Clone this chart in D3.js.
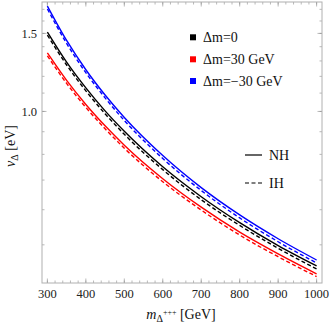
<!DOCTYPE html>
<html><head><meta charset="utf-8">
<script src="https://cdn.jsdelivr.net/npm/d3@7"></script>
<style>body{margin:0;background:#fff}svg{display:block}</style>
</head><body>
<svg id="c" width="332" height="325"></svg>
<script>
const masses = [300,350,400,450,500,600,700,800,900,1000];
const blackNH = [1.510,1.292,1.130,1.003,0.902,0.750,0.642,0.561,0.498,0.448];
const blackIH = [1.487,1.273,1.113,0.988,0.888,0.739,0.632,0.553,0.491,0.441];
const redNH   = [1.355,1.175,1.037,0.928,0.839,0.705,0.608,0.534,0.477,0.430];
const redIH   = [1.335,1.157,1.021,0.914,0.826,0.694,0.599,0.526,0.470,0.424];
const blueNH  = [1.729,1.446,1.242,1.089,0.969,0.795,0.673,0.584,0.516,0.462];
const blueIH  = [1.703,1.424,1.223,1.073,0.954,0.783,0.663,0.575,0.508,0.455];
const xTicks = [300,400,500,600,700,800,900,1000];
const yTicks = [1.0,1.5];
const yTickLabels = ["1.0","1.5"];
const legendLabels = ["\u0394m=0","\u0394m=30 GeV","\u0394m=\u221230 GeV"];
const legendColors = ["#000000","#ff0000","#0000ff"];

const svg = d3.select("#c");
const L=42,R=322,T=2,B=283;
const x = d3.scaleLinear().domain([286,1014]).range([L,R]);
const y = d3.scaleLog().domain([0.410,1.766]).range([B,T]);
const frame="#b0b0b0", tickC="#8a8a8a";
const serif="'Liberation Serif','DejaVu Serif',serif";

svg.append("defs").append("clipPath").attr("id","clip").append("rect")
  .attr("x",L).attr("y",T).attr("width",R-L).attr("height",B-T);

const xMinor = d3.range(300,1001,20);
const yMinor = d3.range(5,18).map(d=>d/10);
function hTicks(vals,len,yy,dir){
  vals.forEach(v=>svg.append("line").attr("x1",x(v)).attr("x2",x(v)).attr("y1",yy).attr("y2",yy+dir*len).attr("stroke",tickC).attr("stroke-width",0.6));
}
function vTicks(vals,len,xx,dir){
  vals.forEach(v=>svg.append("line").attr("y1",y(v)).attr("y2",y(v)).attr("x1",xx).attr("x2",xx+dir*len).attr("stroke",tickC).attr("stroke-width",0.6));
}
hTicks(xMinor,2.5,B,-1); hTicks(xTicks,4.5,B,-1);
hTicks(xMinor,2.5,T,1); hTicks(xTicks,4.5,T,1);
vTicks(yMinor,2.5,L,1); vTicks(yTicks,4.5,L,1);
vTicks(yMinor,2.5,R,-1); vTicks(yTicks,4.5,R,-1);

svg.append("rect").attr("x",L).attr("y",T).attr("width",R-L).attr("height",B-T)
  .attr("fill","none").attr("stroke",frame).attr("stroke-width",1);

svg.append("g").selectAll("text").data(xTicks).join("text")
  .attr("x",d=>x(d)).attr("y",B+15).attr("text-anchor","middle")
  .attr("font-family",serif).attr("font-size",12.5).attr("fill","#222").text(d=>d);
svg.append("g").selectAll("text").data(yTicks).join("text")
  .attr("x",L-5).attr("y",d=>y(d)+4.5).attr("text-anchor","end")
  .attr("font-family",serif).attr("font-size",12.5).attr("fill","#222").text((d,i)=>yTickLabels[i]);

const line = d3.line().x((d,i)=>x(masses[i])).y(d=>y(d)).curve(d3.curveMonotoneX);
const g = svg.append("g").attr("clip-path","url(#clip)");
const series = [
  [blackNH,"#000000",null],[blackIH,"#000000","4,2.5"],
  [redNH,"#ff0000",null],[redIH,"#ff0000","4,2.5"],
  [blueNH,"#0000ff",null],[blueIH,"#0000ff","4,2.5"]
];
series.forEach(([vals,col,dash])=>{
  g.append("path").attr("d",line(vals)).attr("fill","none").attr("stroke",col)
   .attr("stroke-width",1.4).attr("stroke-dasharray",dash);
});

const ly=[37.3,59.3,81];
legendLabels.forEach((t,i)=>{
  svg.append("rect").attr("x",190).attr("y",ly[i]-3).attr("width",6).attr("height",6).attr("fill",legendColors[i]);
  svg.append("text").attr("x",203).attr("y",ly[i]+4.5).attr("font-family",serif).attr("font-size",14).attr("fill","#111").text(t);
});
svg.append("line").attr("x1",245).attr("x2",262).attr("y1",155).attr("y2",155).attr("stroke","#000").attr("stroke-width",1.2);
svg.append("line").attr("x1",245).attr("x2",262).attr("y1",183).attr("y2",183).attr("stroke","#000").attr("stroke-width",1.2).attr("stroke-dasharray","4,2.5");
svg.append("text").attr("x",269).attr("y",159.5).attr("font-family",serif).attr("font-size",14).attr("fill","#111").text("NH");
svg.append("text").attr("x",269).attr("y",187.5).attr("font-family",serif).attr("font-size",14).attr("fill","#111").text("IH");

const xl = svg.append("text").attr("x",181).attr("y",319).attr("text-anchor","middle")
  .attr("font-family",serif).attr("font-size",14).attr("fill","#111");
xl.append("tspan").attr("font-style","italic").text("m");
xl.append("tspan").attr("font-size",10).attr("dy",3).text("\u0394");
xl.append("tspan").attr("font-size",8).attr("dy",-7).text("+++");
xl.append("tspan").attr("dy",4).text(" [GeV]");

const yl = svg.append("text").attr("transform","translate(15,146) rotate(-90)").attr("text-anchor","middle")
  .attr("font-family",serif).attr("font-size",14).attr("fill","#111");
yl.append("tspan").attr("font-style","italic").text("v");
yl.append("tspan").attr("font-size",10).attr("dy",3).text("\u0394");
yl.append("tspan").attr("dy",-3).text(" [eV]");
</script>
</body></html>
